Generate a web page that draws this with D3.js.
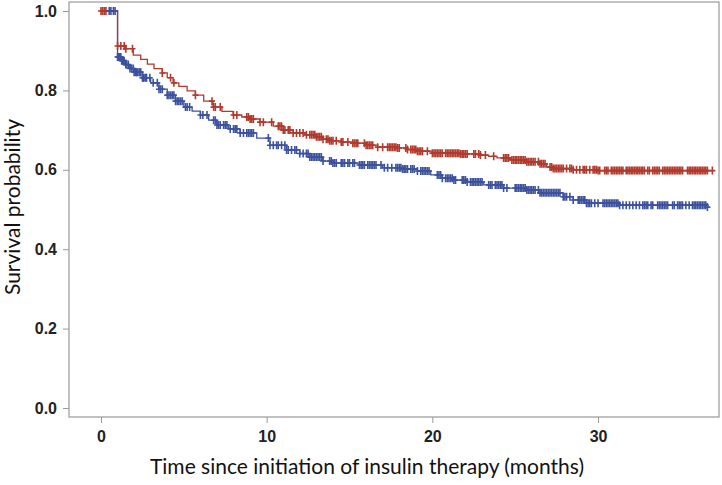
<!DOCTYPE html>
<html lang="en">
<head>
  <title>Survival after insulin initiation</title>
  <meta charset="utf-8">
  <style>
    body { margin: 0; background: #fff; }
    .tick text { font-family: "Liberation Sans", Arial, sans-serif; font-weight: bold; font-size: 16px; fill: #222; }
    .tick line { stroke: #999; }
    .title { font-family: Lato, "Open Sans", sans-serif; font-size: 21px; fill: #111; }
  </style>
  <script src="https://d3js.org/d3.v7.min.js"></script>
</head>
<body>
<svg width="722" height="485"></svg>
<script>
// step curves (months, survival probability)
var redTimes = [0, 1.0, 1.5, 1.95, 2.4, 2.8, 3.2, 3.7, 4.0, 4.35, 4.7, 5.2, 5.7, 6.2, 6.76, 7.3, 7.97, 8.5, 9.0, 9.6, 10.4, 11.0, 11.6, 12.3, 13.0, 13.4, 13.8, 14.5, 15.2, 16.0, 16.7, 17.9, 18.5, 19.1, 20.0, 21.7, 22.9, 23.4, 23.9, 24.7, 25.7, 26.5, 26.9, 27.3, 28.5, 30.0, 36.9];
var redSurv  = [1.0, 0.912, 0.905, 0.889, 0.878, 0.866, 0.855, 0.844, 0.832, 0.819, 0.810, 0.799, 0.788, 0.773, 0.758, 0.747, 0.738, 0.733, 0.728, 0.720, 0.710, 0.700, 0.693, 0.688, 0.683, 0.677, 0.673, 0.670, 0.667, 0.662, 0.657, 0.655, 0.651, 0.647, 0.642, 0.640, 0.637, 0.634, 0.630, 0.625, 0.620, 0.615, 0.607, 0.603, 0.600, 0.598, 0.598];

var blueTimes = [0, 1.0, 1.25, 1.5, 1.75, 2.0, 2.5, 3.0, 3.5, 4.0, 4.5, 5.0, 5.5, 6.0, 6.5, 7.0, 7.7, 8.4, 9.4, 10.2, 11.2, 12.0, 12.6, 13.4, 14.0, 15.6, 17.0, 18.2, 19.1, 19.9, 20.6, 21.3, 22.1, 23.1, 24.3, 25.7, 26.5, 27.9, 28.5, 29.3, 31.3, 36.6];
var blueSurv  = [1.0, 0.884, 0.875, 0.865, 0.855, 0.846, 0.832, 0.819, 0.803, 0.788, 0.773, 0.758, 0.748, 0.738, 0.725, 0.713, 0.703, 0.693, 0.680, 0.662, 0.650, 0.641, 0.632, 0.622, 0.617, 0.612, 0.605, 0.602, 0.597, 0.587, 0.579, 0.574, 0.569, 0.562, 0.554, 0.549, 0.542, 0.532, 0.524, 0.516, 0.511, 0.506];

// censored observations (months)
var redCensor = [0.0, 0.1, 0.2, 0.3, 1.0, 1.2, 1.4, 1.5, 1.9, 3.7, 4.2, 4.4, 5.7, 6.7, 6.8, 6.9, 7.2, 8.0, 8.2, 8.8, 8.9, 9.0, 9.1, 9.2, 9.6, 9.8, 10.3, 10.7, 10.8, 10.9, 11.0, 11.1, 11.3, 11.4, 11.6, 11.8, 12.0, 12.2, 12.4, 12.6, 12.7, 12.8, 12.9, 13.0, 13.1, 13.2, 13.3, 13.4, 13.6, 13.7, 13.8, 13.9, 14.0, 14.2, 14.5, 14.6, 14.9, 15.2, 15.3, 15.4, 15.5, 15.9, 16.0, 16.1, 16.2, 16.3, 16.4, 16.7, 17.0, 17.3, 17.4, 17.5, 17.6, 17.7, 17.8, 17.9, 18.0, 18.4, 18.5, 18.7, 18.8, 18.9, 19.0, 19.1, 19.2, 19.3, 19.4, 19.7, 20.0, 20.1, 20.2, 20.3, 20.4, 20.5, 20.6, 20.8, 20.9, 21.0, 21.1, 21.2, 21.3, 21.4, 21.5, 21.6, 21.7, 21.8, 21.9, 22.0, 22.1, 22.5, 22.6, 22.8, 22.9, 23.2, 23.7, 24.3, 24.4, 24.5, 24.6, 24.8, 24.9, 25.0, 25.1, 25.2, 25.3, 25.4, 25.5, 25.6, 25.7, 25.8, 25.9, 26.0, 26.1, 26.2, 26.4, 26.5, 26.6, 26.7, 26.8, 27.1, 27.2, 27.3, 27.4, 27.5, 27.6, 27.7, 27.8, 27.9, 28.1, 28.3, 28.4, 28.5, 28.7, 28.9, 29.1, 29.2, 29.3, 29.5, 29.7, 29.8, 29.9, 30.0, 30.1, 30.4, 30.5, 30.6, 30.8, 30.9, 31.0, 31.1, 31.2, 31.3, 31.4, 31.5, 31.7, 31.8, 31.9, 32.0, 32.1, 32.2, 32.3, 32.4, 32.5, 32.6, 32.7, 32.8, 33.0, 33.1, 33.3, 33.4, 33.5, 33.6, 33.7, 33.9, 34.0, 34.1, 34.2, 34.3, 34.4, 34.5, 34.6, 34.7, 34.8, 34.9, 35.0, 35.1, 35.4, 35.5, 35.6, 35.7, 35.8, 35.9, 36.0, 36.1, 36.2, 36.3, 36.4, 36.5, 36.6, 36.9];

var blueCensor = [0.5, 0.6, 0.75, 0.85, 1.0, 1.05, 1.1, 1.15, 1.2, 1.25, 1.3, 1.35, 1.4, 1.5, 1.55, 1.65, 1.75, 1.85, 1.95, 2.0, 2.1, 2.15, 2.2, 2.3, 2.35, 2.4, 2.5, 2.55, 2.6, 2.7, 2.75, 2.95, 3.15, 3.4, 3.5, 3.6, 3.7, 4.0, 4.1, 4.2, 4.3, 4.4, 4.5, 4.6, 4.7, 4.8, 4.9, 5.1, 5.2, 5.35, 6.0, 6.15, 6.4, 6.8, 6.9, 7.0, 7.1, 7.2, 7.4, 7.5, 7.6, 7.8, 8.0, 8.1, 8.2, 8.4, 8.6, 8.8, 8.9, 9.0, 9.1, 9.2, 10.1, 10.2, 10.4, 10.6, 10.7, 10.9, 11.1, 11.2, 11.3, 11.5, 11.7, 11.8, 12.0, 12.2, 12.4, 12.5, 12.6, 12.7, 12.8, 12.9, 13.0, 13.1, 13.2, 13.3, 13.4, 13.8, 13.9, 14.0, 14.1, 14.2, 14.5, 14.6, 14.7, 14.9, 15.0, 15.2, 15.3, 15.6, 15.7, 15.8, 15.9, 16.1, 16.2, 16.3, 16.4, 16.5, 16.6, 16.9, 17.1, 17.3, 17.55, 17.8, 17.9, 18.0, 18.1, 18.2, 18.3, 18.4, 18.5, 18.7, 18.8, 18.9, 19.1, 19.3, 19.4, 19.5, 19.6, 19.7, 19.8, 20.3, 20.4, 20.5, 20.6, 20.8, 20.9, 21.0, 21.1, 21.2, 21.3, 21.4, 21.8, 21.9, 22.0, 22.1, 22.3, 22.4, 22.5, 22.6, 22.7, 22.8, 22.9, 23.0, 23.4, 23.5, 23.6, 23.8, 23.9, 24.0, 24.1, 24.2, 24.3, 24.5, 25.0, 25.1, 25.2, 25.3, 25.4, 25.5, 25.6, 25.7, 25.8, 25.9, 26.0, 26.1, 26.2, 26.4, 26.5, 26.6, 26.7, 26.8, 26.9, 27.0, 27.1, 27.2, 27.3, 27.4, 27.5, 27.6, 27.7, 27.9, 28.0, 28.1, 28.3, 28.5, 28.8, 28.9, 29.0, 29.1, 29.2, 29.3, 29.4, 29.5, 29.6, 29.8, 30.0, 30.3, 30.4, 30.5, 30.6, 30.7, 30.8, 30.9, 31.0, 31.1, 31.2, 31.3, 31.5, 31.7, 31.9, 32.1, 32.3, 32.5, 32.7, 32.8, 32.9, 33.0, 33.2, 33.3, 33.6, 33.7, 33.8, 33.9, 34.0, 34.1, 34.2, 34.5, 34.6, 34.8, 34.9, 35.0, 35.1, 35.3, 35.5, 35.7, 35.8, 35.9, 36.0, 36.1, 36.2, 36.3, 36.4, 36.5, 36.6];

var xTicks = [0, 10, 20, 30];
var yTicks = [0.0, 0.2, 0.4, 0.6, 0.8, 1.0];

var svg = d3.select("svg"),
    plotLeft = 69, plotRight = 719, plotTop = 2, plotBottom = 417;

var x = d3.scaleLinear().domain([-1.93, 37.3]).range([plotLeft, plotRight]),
    y = d3.scaleLinear().domain([-0.0227, 1.0227]).range([plotBottom, plotTop]);

// frame
svg.append("rect")
   .attr("x", plotLeft).attr("y", plotTop)
   .attr("width", plotRight - plotLeft).attr("height", plotBottom - plotTop)
   .attr("fill", "none").attr("stroke", "#a0a0a0").attr("stroke-width", 1.3);

var gx = svg.append("g")
   .attr("transform", "translate(0," + plotBottom + ")")
   .call(d3.axisBottom(x).tickValues(xTicks).tickSize(6).tickPadding(8).tickFormat(d3.format("d")));
gx.select(".domain").remove();

var gy = svg.append("g")
   .attr("transform", "translate(" + plotLeft + ",0)")
   .call(d3.axisLeft(y).tickValues(yTicks).tickSize(6).tickPadding(6).tickFormat(d3.format(".1f")));
gy.select(".domain").remove();

svg.append("text").attr("class", "title")
   .attr("x", 367).attr("y", 474).attr("text-anchor", "middle")
   .text("Time since initiation of insulin therapy (months)");

svg.append("text").attr("class", "title")
   .attr("transform", "translate(20,207) rotate(-90)")
   .attr("text-anchor", "middle")
   .text("Survival probability");

var series = [
  {times: blueTimes, surv: blueSurv, censor: blueCensor, color: "#3d529e"},
  {times: redTimes, surv: redSurv, censor: redCensor, color: "#b13a2d"}
];

var line = d3.line()
   .x(function(d) { return x(d[0]); })
   .y(function(d) { return y(d[1]); })
   .curve(d3.curveStepAfter);

series.forEach(function(s) {
  svg.append("path")
     .datum(d3.zip(s.times, s.surv))
     .attr("fill", "none")
     .attr("stroke", s.color)
     .attr("stroke-width", 1.3)
     .attr("d", line);
});

var bis = d3.bisector(function(d) { return d; }).right;
function survAt(s, t) {
  var i = bis(s.times, t) - 1;
  return s.surv[Math.max(0, i)];
}

// red markers first, blue on top
[series[1], series[0]].forEach(function(s) {
  svg.append("g").selectAll("path")
     .data(s.censor)
     .enter().append("path")
     .attr("transform", function(t) { return "translate(" + x(t) + "," + y(survAt(s, t)) + ")"; })
     .attr("d", "M-3,0H3M0,-4V4")
     .attr("stroke", s.color)
     .attr("stroke-width", 1.6)
     .attr("fill", "none");
});
</script>
</body>
</html>
